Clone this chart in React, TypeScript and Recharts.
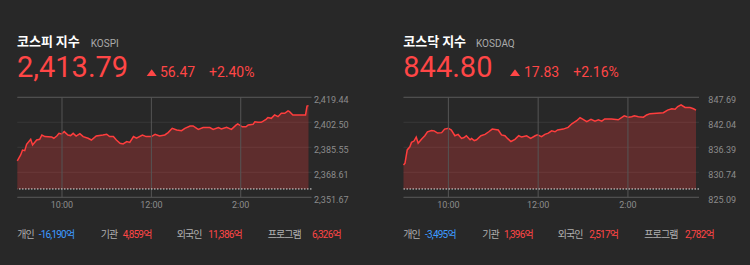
import React from "react";
import { AreaChart, Area, XAxis, YAxis, CartesianGrid, ReferenceLine } from "recharts";

const kospiMinutes = [0,4.5,7,10,12.5,18,20.5,26,30,33,37,46,49,53,56,59.5,63,68,71.5,75,79,84,88.5,95,99.5,106,115,120,124,129,133,138,142,147,151,156,160,168,173,180,185,191,198,202.5,208,214,220.5,225,232,236,243,249.5,258.5,263,270,274,281,287.5,294,296,302,307,310,316.5,319,323,327.5,334,336.5,341,345.5,350,354.5,359,363.5,365.5,370,387,389,391];
const kospiValues = [2376.3,2380.4,2383.7,2383.3,2387.6,2391.0,2387.1,2390.5,2391.0,2393.9,2392.8,2392.6,2391.7,2393.2,2395.0,2394.6,2396.2,2393.9,2393.5,2395.0,2393.2,2394.8,2392.8,2391.7,2390.5,2393.2,2393.9,2394.4,2392.8,2392.8,2390.5,2388.3,2387.8,2389.4,2388.9,2392.8,2391.7,2393.9,2392.8,2392.8,2394.4,2393.2,2393.9,2395.5,2398.4,2397.3,2396.8,2398.4,2400.0,2400.0,2397.7,2398.9,2398.9,2397.7,2398.9,2398.0,2399.1,2397.7,2400.7,2401.4,2399.4,2399.4,2400.7,2401.1,2402.9,2402.5,2402.5,2404.5,2405.7,2405.2,2407.5,2406.3,2408.6,2408.6,2410.2,2409.7,2407.5,2407.5,2413.5,2413.79];
const kospiTicks = [2351.67, 2368.61, 2385.55, 2402.5, 2419.44];
const kospiTickLabels = ["2,351.67", "2,368.61", "2,385.55", "2,402.50", "2,419.44"];
const kospiPrevClose = 2357.32;

const kosdaqMinutes = [0,2,5,8.5,10.7,14,17,19.6,24,28.5,32,37.5,41,45.5,51,55,60,64,68.7,73,77.6,81,84,89,91,94.5,97.7,103.5,109,114,118.6,126.7,131,135.6,139,143.6,149,154,158,164.6,170,176,179,184.6,189,193.6,198,202.5,206,213.6,220,225,231.5,236,240,245,250.6,256,260.5,265,269,278,287,295,300.6,305,308.6,314,320.7,325,329.6,338.5,347.4,353,358.6,363,366.6,371,376.4,383,387.6,391];
const kosdaqValues = [832.4,832.8,835.8,836.5,837.5,837.8,838.7,837.3,838.2,839.0,839.9,840.2,840.1,839.6,839.7,840.5,840.7,840.3,839.0,839.3,838.4,838.6,839.0,838.1,838.4,837.9,838.1,839.0,839.3,839.9,840.5,840.3,839.2,839.0,838.4,837.7,838.2,839.0,838.7,839.0,838.4,839.0,839.2,838.8,839.3,839.6,840.1,839.9,840.3,840.5,840.9,841.7,842.4,843.1,842.7,842.2,842.7,842.3,842.6,842.3,842.8,842.8,842.6,843.5,843.2,843.3,843.5,843.3,843.2,843.7,844.0,844.1,844.2,844.8,845.1,845.0,845.6,846.0,845.4,845.4,845.1,844.8];
const kosdaqTicks = [825.09, 830.74, 836.39, 842.04, 847.69];
const kosdaqTickLabels = ["825.09", "830.74", "836.39", "842.04", "847.69"];
const kosdaqPrevClose = 826.97;

const timeTicks = [60, 180, 300];
const timeTickLabels = ["10:00", "12:00", "2:00"];
const timeDomain = [0, 395];

const BG = "#282828";
const RED = "#ff4646";
const BLUE = "#3d9bff";

type PanelProps = {
  minutes: number[];
  values: number[];
  ticks: number[];
  tickLabels: string[];
  prevClose: number;
  left: number;
  plotLeft: number;
  plotRight: number;
};

const W = 375;
const H = 215;
const YW = 50;
const XH = 15;
const TOP = 97.3;
const BOTTOM = 197.3;

function Panel(p: PanelProps) {
  const data = p.minutes.map((t, i) => ({ t, v: p.values[i] }));
  const YTick = (props: any) => {
    const { x, y, index } = props;
    return (
      <text x={x + 37} y={y + 5.5} textAnchor="end" fontSize={9} fill="#8c8c8c" fontFamily="Roboto">
        {p.tickLabels[index]}
      </text>
    );
  };
  const XTick = (props: any) => {
    const { x, y, index } = props;
    return (
      <text x={x} y={y + 10.5} textAnchor="middle" fontSize={9} fill="#8c8c8c" fontFamily="Roboto">
        {timeTickLabels[index]}
      </text>
    );
  };
  return (
    <div style={{ position: "absolute", left: p.left, top: 0, width: W, height: H }}>
      <AreaChart
        width={W}
        height={H}
        data={data}
        margin={{ top: TOP, left: p.plotLeft, right: W - p.plotRight - YW, bottom: H - BOTTOM - XH }}
      >
        <CartesianGrid stroke="#383838" vertical={false} />
        <XAxis
          dataKey="t"
          type="number"
          domain={timeDomain}
          ticks={timeTicks}
          interval={0}
          height={XH}
          tickSize={0}
          tickMargin={0}
          tickLine={false}
          axisLine={{ stroke: "#555555" }}
          tick={XTick}
        />
        <YAxis
          orientation="right"
          type="number"
          domain={[p.ticks[0], p.ticks[p.ticks.length - 1]]}
          ticks={p.ticks}
          interval={0}
          width={YW}
          tickSize={0}
          tickMargin={0}
          tickLine={false}
          axisLine={false}
          tick={YTick}
        />
        {timeTicks.map((t) => (
          <ReferenceLine key={t} x={t} stroke="#555555" />
        ))}
        <ReferenceLine y={p.ticks[p.ticks.length - 1]} stroke="#555555" />
        <Area
          type="linear"
          dataKey="v"
          baseValue={p.prevClose}
          stroke="#ff3d3d"
          strokeWidth={1.5}
          fill="#ff3c3c"
          fillOpacity={0.25}
          dot={false}
          activeDot={false}
          isAnimationActive={false}
        />
        <ReferenceLine y={p.prevClose} stroke="#e0e0e0" strokeDasharray="1.5 1.5" />
      </AreaChart>
    </div>
  );
}

type Header = {
  x: number;
  title: string;
  code: string;
  codeX: number;
  price: string;
  triX: number;
  change: string;
  changeX: number;
  pct: string;
  pctX: number;
  flows: { label: string; lx: number; value: string; vx: number; color: string }[];
};

const kospiHeader: Header = {
  x: 17,
  title: "코스피 지수",
  code: "KOSPI",
  codeX: 90.7,
  price: "2,413.79",
  triX: 146.7,
  change: "56.47",
  changeX: 160,
  pct: "+2.40%",
  pctX: 209,
  flows: [
    { label: "개인", lx: 17.3, value: "-16,190억", vx: 38.7, color: BLUE },
    { label: "기관", lx: 100.7, value: "4,859억", vx: 122.7, color: RED },
    { label: "외국인", lx: 176.7, value: "11,386억", vx: 208.3, color: RED },
    { label: "프로그램", lx: 267.7, value: "6,326억", vx: 312, color: RED },
  ],
};

const kosdaqHeader: Header = {
  x: 403.3,
  title: "코스닥 지수",
  code: "KOSDAQ",
  codeX: 476,
  price: "844.80",
  triX: 510,
  change: "17.83",
  changeX: 524,
  pct: "+2.16%",
  pctX: 573.3,
  flows: [
    { label: "개인", lx: 403.3, value: "-3,495억", vx: 425, color: BLUE },
    { label: "기관", lx: 482.3, value: "1,396억", vx: 504, color: RED },
    { label: "외국인", lx: 557.7, value: "2,517억", vx: 589.3, color: RED },
    { label: "프로그램", lx: 644.3, value: "2,782억", vx: 685, color: RED },
  ],
};

function HeaderText({ h }: { h: Header }) {
  return (
    <g>
      <text x={h.x} y={45.7} fontSize={13} fontWeight={700} fill="#ffffff" fontFamily="'Noto Sans CJK KR', sans-serif">
        {h.title}
      </text>
      <text x={h.codeX} y={46.7} fontSize={10} fill="#aaaaaa" fontFamily="Roboto">
        {h.code}
      </text>
      <text x={h.x} y={77.3} fontSize={29} fill={RED} fontFamily="Roboto">
        {h.price}
      </text>
      <polygon points={`${h.triX},76 ${h.triX + 10},76 ${h.triX + 5},69.3`} fill={RED} />
      <text x={h.changeX} y={77.3} fontSize={14} fill={RED} fontFamily="Roboto">
        {h.change}
      </text>
      <text x={h.pctX} y={77.3} fontSize={14} fill={RED} fontFamily="Roboto">
        {h.pct}
      </text>
      {h.flows.map((f) => (
        <g key={f.label}>
          <text x={f.lx} y={238} fontSize={10} fill="#b0b0b0" letterSpacing={-0.9} fontFamily="'Noto Sans CJK KR', sans-serif">
            {f.label}
          </text>
          <text x={f.vx} y={238} fontSize={10} fill={f.color} letterSpacing={-0.8} fontFamily="Roboto, 'Noto Sans CJK KR', sans-serif">
            {f.value}
          </text>
        </g>
      ))}
    </g>
  );
}

export default function App() {
  return (
    <div style={{ position: "fixed", left: 0, top: 0, width: 750, height: 265, background: BG, overflow: "hidden" }}>
      <Panel
        minutes={kospiMinutes}
        values={kospiValues}
        ticks={kospiTicks}
        tickLabels={kospiTickLabels}
        prevClose={kospiPrevClose}
        left={0}
        plotLeft={17.3}
        plotRight={311.5}
      />
      <Panel
        minutes={kosdaqMinutes}
        values={kosdaqValues}
        ticks={kosdaqTicks}
        tickLabels={kosdaqTickLabels}
        prevClose={kosdaqPrevClose}
        left={375}
        plotLeft={28.5}
        plotRight={324}
      />
      <svg width={750} height={265} style={{ position: "absolute", left: 0, top: 0, pointerEvents: "none" }}>
        <HeaderText h={kospiHeader} />
        <HeaderText h={kosdaqHeader} />
      </svg>
    </div>
  );
}
